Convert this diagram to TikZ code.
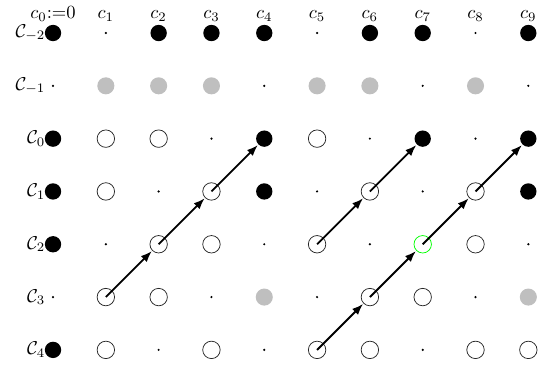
\documentclass[tikz,border=0pt]{standalone}
\usepackage{amsmath, amssymb}
\usepackage{xcolor}
\usetikzlibrary{arrows.meta}

\begin{document}
\begin{tikzpicture}[
  >={Latex[length=6pt, width=4.5pt]},
  arr/.style={->, line width=1pt, shorten >=0.3pt},
  k-f/.style={circle, fill=black, inner sep=0pt, minimum size=8.8pt},
  k-o/.style={circle, draw=black!85, inner sep=0pt, minimum size=9.4pt},
  k-g/.style={circle, fill=black!25, inner sep=0pt, minimum size=9.2pt},
  k-e/.style={circle, draw=green, inner sep=0pt, minimum size=9.4pt},
  k-d/.style={circle, fill=black, inner sep=0pt, minimum size=1.3pt},
  rlbl/.style={anchor=east, inner sep=0pt},
  clbl/.style={anchor=base, inner sep=0pt},
]
\useasboundingbox (-1.004,-6.29) rectangle (9.24,0.625);

%% ===== GRID OF CLASSES =====
\foreach \r/\y/\kinds in {
    m2/0/{f,d,f,f,f,d,f,f,d,f},
    m1/1/{d,g,g,g,d,g,g,d,g,d},
    0/2/{f,o,o,d,f,o,d,f,d,f},
    1/3/{f,o,d,o,f,d,o,d,o,f},
    2/4/{f,d,o,o,d,o,d,e,o,d},
    3/5/{d,o,o,d,g,d,o,o,d,g},
    4/6/{f,o,d,o,d,o,o,d,o,o}}
  \foreach \k [count=\c from 0] in \kinds
    \node[k-\k] (r\r c\c) at (\c,-\y) {};

%% ===== LABELS =====
\node[clbl] (col0) at (0,0.275) {$c_0{:=}0$};
\foreach \c in {1,...,9}
  \node[clbl] (col\c) at (\c,0.275) {$c_{\c}$};

\foreach \r/\t/\y in {m2/{-2}/0, m1/{-1}/1, 0/0/2, 1/1/3, 2/2/4, 3/3/5, 4/4/6}
  \node[rlbl] (row\r) at (-0.14,-\y) {$\mathcal{C}_{\t}$};

%% ===== CHAINS =====
\draw[arr] (r3c1.center) -- (r2c2);
\draw[arr] (r2c2.center) -- (r1c3);
\draw[arr] (r1c3.center) -- (r0c4);

\draw[arr] (r2c5.center) -- (r1c6);
\draw[arr] (r1c6.center) -- (r0c7);

\draw[arr] (r4c5.center) -- (r3c6);
\draw[arr] (r3c6.center) -- (r2c7);
\draw[arr] (r2c7.center) -- (r1c8);
\draw[arr] (r1c8.center) -- (r0c9);

\end{tikzpicture}
\end{document}
